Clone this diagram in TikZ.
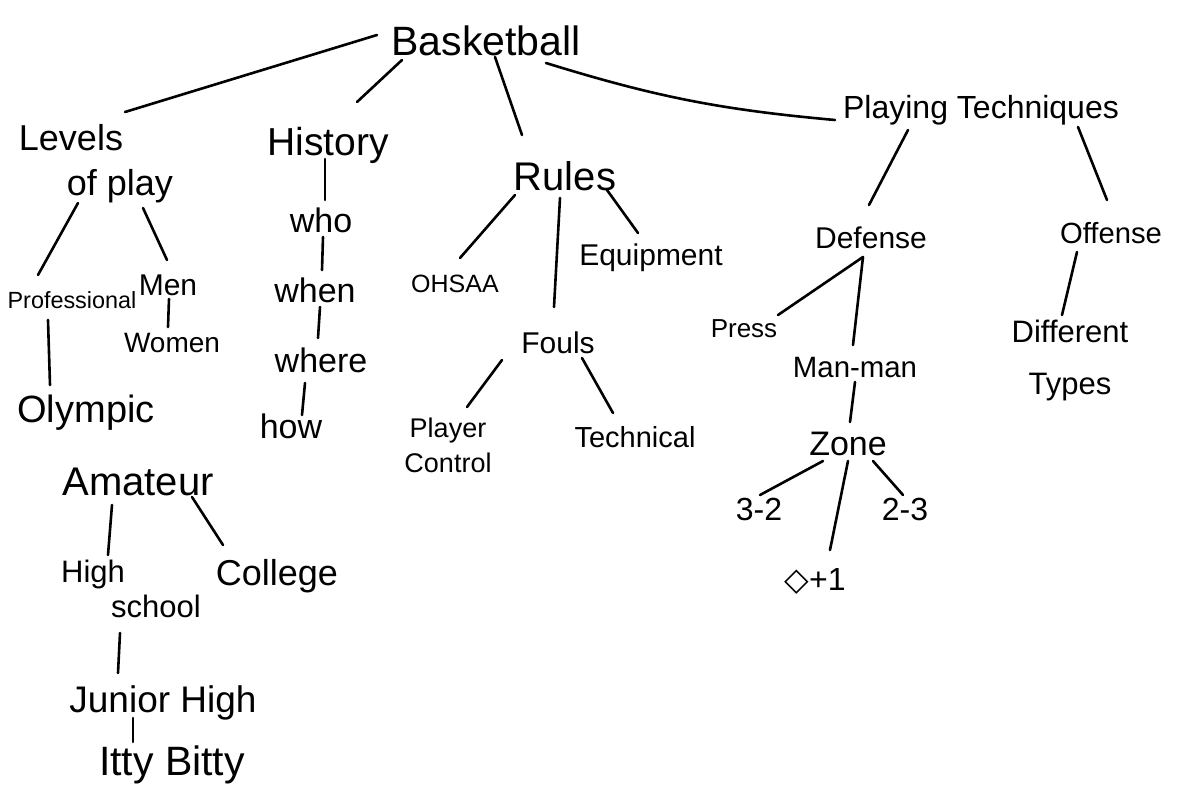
\documentclass[tikz,border=0pt]{standalone}
\usepackage{fontspec}
\setmainfont{Liberation Sans}
\newfontfamily\symfont{DejaVu Sans}
\usetikzlibrary{calc}
\begin{document}
\begin{tikzpicture}[x=0.5pt,y=-0.5pt,
  lbl/.style={inner sep=0pt, anchor=base, font=\fontsize{#1}{#1}\selectfont},
  mlbl/.style={inner sep=0pt, anchor=center},
  con/.style={line width=1.3pt, line cap=round, black}]
\fill[white] (0,0) rectangle (1178,787);
\useasboundingbox (0,0) rectangle (1178,787);

% nodes
\node[lbl=20.5] (bb) at (486,55) {Basketball};
\node[mlbl, align=left, font=\fontsize{18}{22.5}\selectfont] (lev) at (96,164) {Levels\\\hspace{24pt}of play};
\node[lbl=19.5] (hist) at (328,155) {History};
\node[lbl=20] (rules) at (565,190) {Rules};
\node[lbl=16] (play) at (981,118) {Playing Techniques};

\node[lbl=11.7] (pro) at (72,308) {Professional};
\node[lbl=15] (men) at (168,295) {Men};
\node[lbl=14] (wom) at (172,352) {Women};
\node[lbl=19] (oly) at (86,422) {Olympic};
\node[lbl=20] (ama) at (138,495) {Amateur};
\node[mlbl, align=left, font=\fontsize{15.5}{17.5}\selectfont] (hs) at (131,589) {High\\\hspace{25pt}school};
\node[lbl=18] (col) at (277,585) {College};
\node[lbl=18.5] (jh) at (163,712) {Junior High};
\node[lbl=20.5] (ib) at (172,775) {Itty Bitty};

\node[lbl=17] (who) at (321,232) {who};
\node[lbl=17] (when) at (315,302) {when};
\node[lbl=17] (where) at (321,372) {where};
\node[lbl=17] (how) at (291,438) {how};

\node[lbl=12.5] (oh) at (455,292) {OHSAA};
\node[lbl=15] (eq) at (651,265) {Equipment};
\node[lbl=15] (fouls) at (558,353) {Fouls};
\node[mlbl, align=center, font=\fontsize{13.5}{17.5}\selectfont] (pc) at (448,445) {Player\\Control};
\node[lbl=14.5] (tech) at (635,447) {Technical};

\node[lbl=15] (def) at (871,248) {Defense};
\node[lbl=14.6] (off) at (1111,243) {Offense};
\node[lbl=13] (press) at (744,337) {Press};
\node[lbl=14.7] (mm) at (855,377) {Man-man};
\node[mlbl, align=center, font=\fontsize{15.5}{26}\selectfont] (dt) at (1070,360) {Different\\Types};
\node[lbl=17] (zone) at (848,455) {Zone};
\node[lbl=16] (t32) at (759,520) {3-2};
\node[lbl=16] (t23) at (905,520) {2-3};
\node[lbl=16] (box) at (815,590) {{\symfont ◇}+1};

% connectors
\draw[con] ($(bb.base)+(-109,-20)$) -- ($(lev)+(29,-52)$);
\draw[con] ($(bb.base)+(-84,5)$) -- ($(hist.base)+(29,-53)$);
\draw[con] ($(bb.base)+(9,2)$) -- ($(rules.base)+(-43,-55)$);
\draw[con] ($(bb.base)+(60,8)$) to[bend right=6] ($(play.base)+(-146,2)$);

\draw[con] ($(lev)+(-18,39)$) -- ($(pro.base)+(-34,-33)$);
\draw[con] ($(lev)+(47,44)$) -- ($(men.base)+(-1,-35)$);
\draw[con] ($(pro.base)+(-24,12)$) -- ($(oly.base)+(-36,-37)$);
\draw[con] ($(men.base)+(1,4)$) -- ($(wom.base)+(-4,-25)$);

\draw[con] ($(hist.base)+(-3,4)$) -- ($(who.base)+(4,-32)$);
\draw[con] ($(who.base)+(2,5)$) -- ($(when.base)+(7,-32)$);
\draw[con] ($(when.base)+(5,5)$) -- ($(where.base)+(-3,-34)$);
\draw[con] ($(where.base)+(-16,11)$) -- ($(how.base)+(11,-23)$);

\draw[con] ($(rules.base)+(-50,5)$) -- ($(oh.base)+(5,-34)$);
\draw[con] ($(rules.base)+(-5,8)$) -- ($(fouls.base)+(-4,-46)$);
\draw[con] ($(rules.base)+(42,0)$) -- ($(eq.base)+(-13,-32)$);
\draw[con] ($(fouls.base)+(-56,7)$) -- ($(pc)+(19,-38)$);
\draw[con] ($(fouls.base)+(24,5)$) -- ($(tech.base)+(-22,-34)$);

\draw[con] ($(play.base)+(-73,12)$) -- ($(def.base)+(-2,-43)$);
\draw[con] ($(play.base)+(97,9)$) -- ($(off.base)+(-4,-43)$);
\draw[con] ($(def.base)+(-8,9)$) -- ($(press.base)+(34,-22)$);
\draw[con] ($(def.base)+(-8,9)$) -- ($(mm.base)+(-2,-32)$);
\draw[con] ($(mm.base)+(0,5)$) -- ($(zone.base)+(2,-33)$);
\draw[con] ($(zone.base)+(-25,6)$) -- ($(t32.base)+(1,-25)$);
\draw[con] ($(zone.base)+(0,6)$) -- ($(box.base)+(15,-40)$);
\draw[con] ($(zone.base)+(25,6)$) -- ($(t23.base)+(-2,-25)$);
\draw[con] ($(off.base)+(-34,9)$) -- ($(dt)+(-8,-45)$);

\draw[con] ($(ama.base)+(-26,10)$) -- ($(hs)+(-23,-34)$);
\draw[con] ($(ama.base)+(54,2)$) -- ($(col.base)+(-54,-40)$);
\draw[con] ($(hs)+(-11,44)$) -- ($(jh.base)+(-45,-39)$);
\draw[con] ($(jh.base)+(-30,6)$) -- ($(ib.base)+(-39,-33)$);
\end{tikzpicture}
\end{document}
